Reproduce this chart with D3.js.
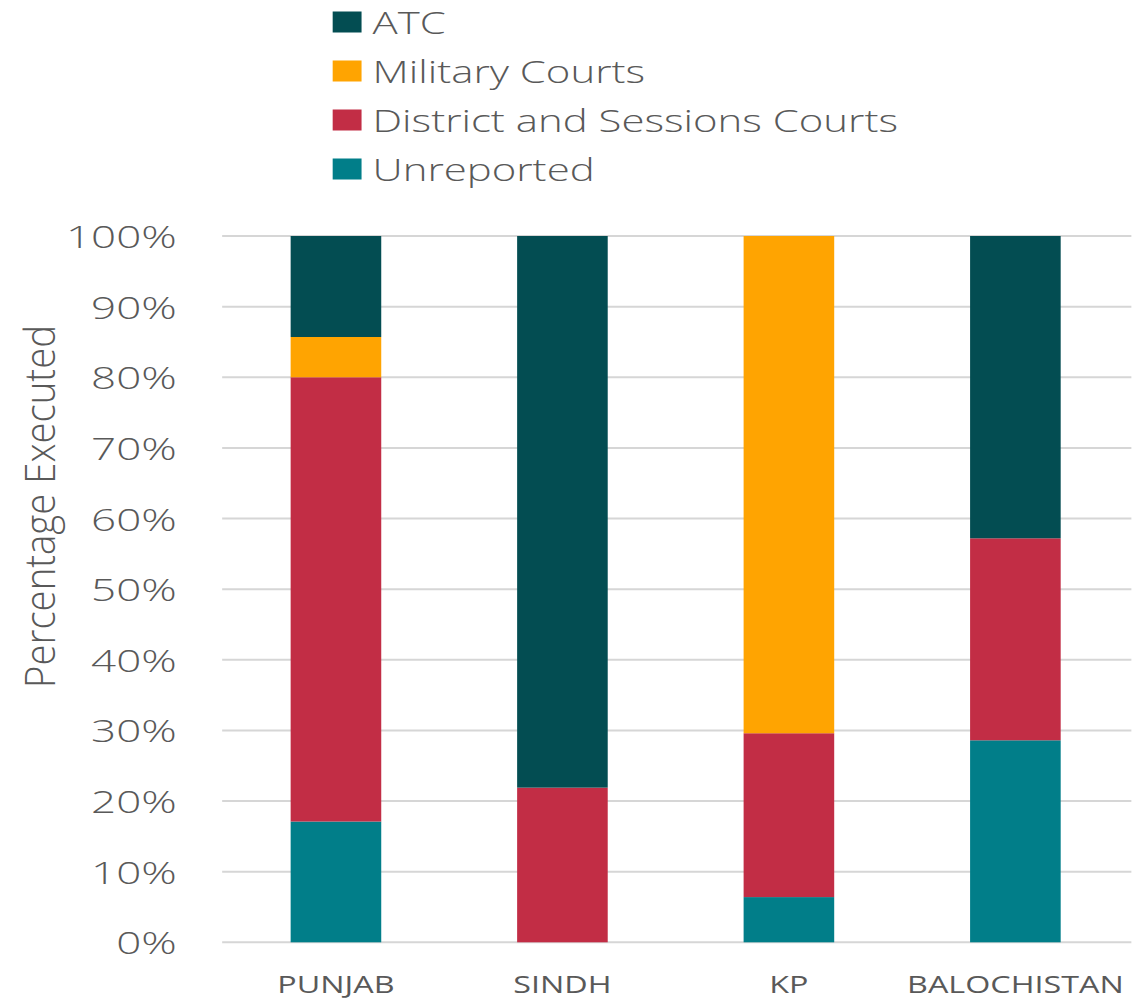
<!DOCTYPE html>
<html>
<head>
<meta charset="utf-8">
<script src="https://cdn.jsdelivr.net/npm/d3@7"></script>
<style>
  html, body { margin: 0; padding: 0; background: #ffffff; }
  svg { display: block; }
  text { font-family: "Open Sans", "Segoe UI", sans-serif; fill: #595959; }
</style>
</head>
<body>
<script>
// Share of executions by trial court, per province (percent of each province's total)
const categories = ["PUNJAB", "SINDH", "KP", "BALOCHISTAN"];
const seriesNames = ["Unreported", "District and Sessions Courts", "Military Courts", "ATC"];
const unreported       = [17.1, 0.0, 6.4, 28.6];
const districtSessions = [62.9, 21.9, 23.2, 28.6];
const militaryCourts   = [5.7, 0.0, 70.4, 0.0];
const atc              = [14.3, 78.1, 0.0, 42.8];
const yTicks = [0, 10, 20, 30, 40, 50, 60, 70, 80, 90, 100];
const legendOrder = ["ATC", "Military Courts", "District and Sessions Courts", "Unreported"];

const colors = {
  "ATC": "#034d52",
  "Military Courts": "#ffa401",
  "District and Sessions Courts": "#c22d45",
  "Unreported": "#017e89"
};

const rows = categories.map((c, i) => ({
  category: c,
  "Unreported": unreported[i],
  "District and Sessions Courts": districtSessions[i],
  "Military Courts": militaryCourts[i],
  "ATC": atc[i]
}));

// Drawing space is 830 wide, stretched across the 1141px page width
const W = 830, H = 1000;
const svg = d3.select("body").append("svg")
  .attr("width", 1141).attr("height", 1000)
  .attr("viewBox", `0 0 ${W} ${H}`)
  .attr("preserveAspectRatio", "none");

const plotLeft = 161.6, plotRight = 823;
const x = d3.scaleBand().domain(categories).range([162, 821])
  .paddingInner(0.6).paddingOuter(0.3);
const y = d3.scaleLinear().domain([0, 100]).range([942.3, 236]);

// Gridlines
svg.append("g").selectAll("line").data(yTicks).join("line")
  .attr("x1", plotLeft).attr("x2", plotRight)
  .attr("y1", d => y(d)).attr("y2", d => y(d))
  .attr("stroke", "#d6d6d6").attr("stroke-width", 2);

// Stacked bars
const stack = d3.stack().keys(seriesNames)(rows);
svg.append("g").selectAll("g").data(stack).join("g")
  .attr("fill", d => colors[d.key])
  .selectAll("rect").data(d => d).join("rect")
  .attr("x", d => x(d.data.category))
  .attr("width", x.bandwidth())
  .attr("y", d => y(d[1]))
  .attr("height", d => Math.max(0, y(d[0]) - y(d[1])));

// Y axis labels
const yAxis = svg.append("g").attr("transform", `translate(${plotLeft - 33},0)`)
  .call(d3.axisLeft(y).tickValues(yTicks).tickFormat(d => d + "%").tickSize(0).tickPadding(0));
yAxis.select(".domain").remove();
yAxis.selectAll("text")
  .attr("x", 0).attr("dy", "0.36em")
  .style("font-size", "32px").style("font-weight", 300)
  .style("font-family", "\"Open Sans\", sans-serif").attr("fill", "#595959");

// X axis labels
const xAxis = svg.append("g").attr("transform", "translate(0,993)")
  .call(d3.axisBottom(x).tickSize(0).tickPadding(0));
xAxis.select(".domain").remove();
xAxis.selectAll("text")
  .attr("y", 0).attr("dy", 0)
  .style("font-size", "23.5px")
  .style("font-family", "\"Open Sans\", sans-serif").attr("fill", "#595959");

// Y axis title
svg.append("text")
  .attr("transform", "translate(40,506.5) rotate(-90)")
  .attr("text-anchor", "middle")
  .attr("textLength", 363).attr("lengthAdjust", "spacingAndGlyphs")
  .style("font-size", "31px").style("font-weight", 300)
  .text("Percentage Executed");

// Legend
const legend = svg.append("g").attr("transform", "translate(242,0)");
const item = legend.selectAll("g").data(legendOrder).join("g")
  .attr("transform", (d, i) => `translate(0,${22 + i * 49})`);
item.append("rect")
  .attr("x", 0).attr("y", -10.5).attr("width", 21).attr("height", 21)
  .attr("fill", d => colors[d]);
item.append("text")
  .attr("x", 29).attr("y", 11.5)
  .style("font-size", "30.5px").style("font-weight", 300)
  .text(d => d);
</script>
</body>
</html>
